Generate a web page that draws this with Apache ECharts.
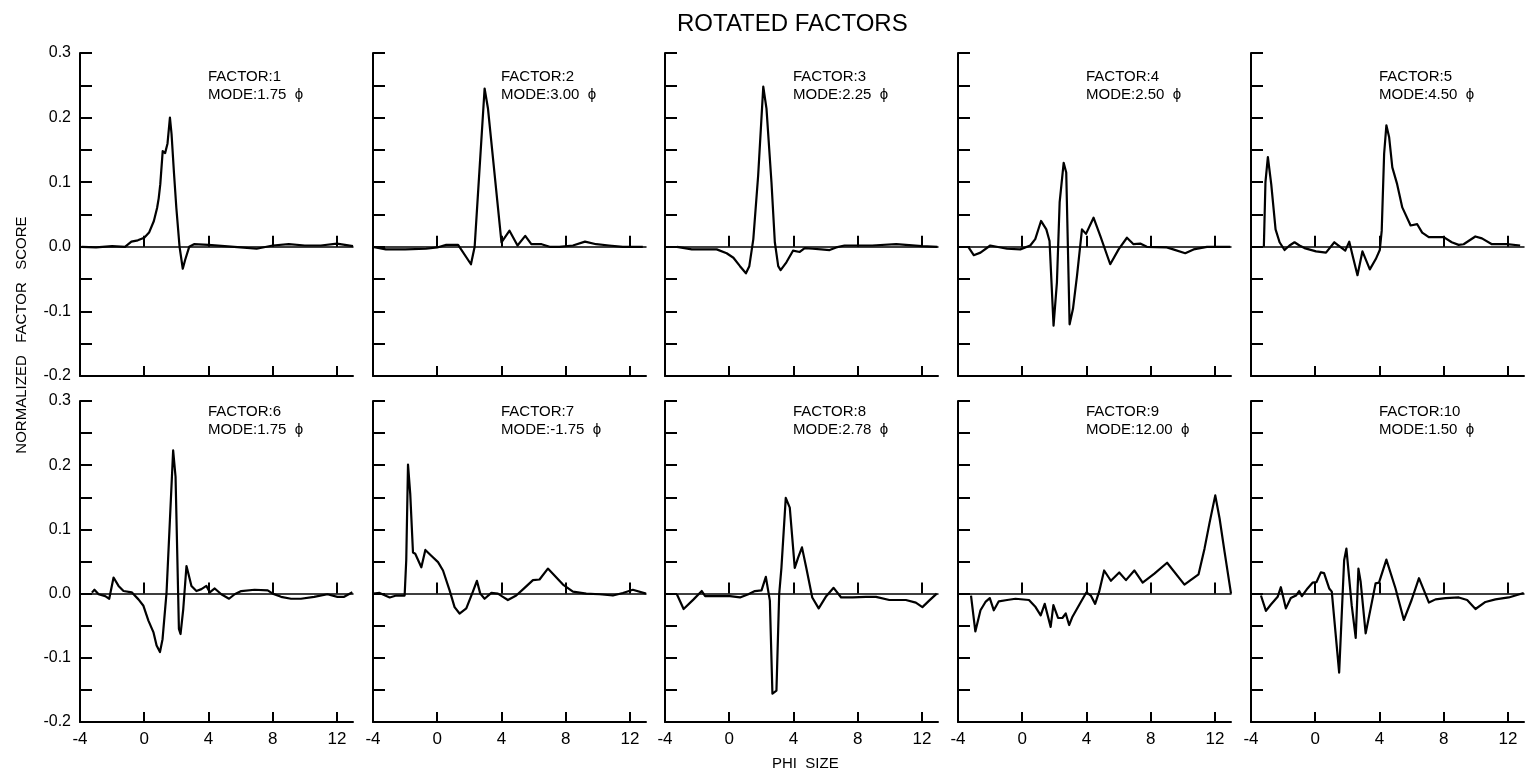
<!DOCTYPE html>
<html>
<head>
<meta charset="utf-8">
<script src="https://cdn.jsdelivr.net/npm/echarts@6/dist/echarts.min.js"></script>
<style>
html,body{margin:0;padding:0;background:#fff;}
#chart{width:1525px;height:773px;}
</style>
</head>
<body>
<div id="chart"></div>
<script>
// ---- data: [phi size, normalized factor score] ----
const factor1 = [[-3.9,0],[-3,-0.001],[-2,0.001],[-1.2,0],[-0.8,0.008],[-0.4,0.01],[0,0.014],[0.3,0.022],[0.6,0.04],[0.8,0.06],[0.9,0.075],[1.0,0.097],[1.15,0.148],[1.3,0.145],[1.45,0.16],[1.6,0.2],[1.7,0.175],[1.85,0.115],[2.0,0.06],[2.2,0.0],[2.4,-0.034],[2.55,-0.02],[2.8,0.0],[3.1,0.004],[4,0.003],[5,0.001],[6,-0.001],[7,-0.003],[8,0.002],[9,0.004],[10,0.002],[11,0.002],[12,0.005],[13,0.001]];
const factor2 = [[-4,0],[-3.2,-0.004],[-2,-0.004],[-0.7,-0.003],[0,-0.001],[0.56,0.003],[1.3,0.003],[2.1,-0.027],[2.33,0],[2.95,0.245],[3.16,0.214],[4.0,0.007],[4.5,0.025],[5.0,0.002],[5.48,0.017],[5.86,0.004],[6.5,0.004],[7.0,0],[7.6,0],[8.45,0.002],[9.2,0.008],[9.9,0.004],[10.7,0.002],[11.56,0],[12.8,0]];
const factor3 = [[-3.25,0],[-2.33,-0.004],[-0.78,-0.004],[-0.16,-0.01],[0.26,-0.017],[0.67,-0.03],[1.04,-0.041],[1.25,-0.03],[1.5,0.012],[1.8,0.11],[2.12,0.248],[2.32,0.214],[2.63,0.1],[2.84,0.007],[3.05,-0.03],[3.2,-0.036],[3.56,-0.024],[3.97,-0.006],[4.39,-0.008],[4.7,-0.002],[5.2,-0.003],[5.73,-0.004],[6.25,-0.005],[6.66,-0.001],[7.18,0.002],[8.9,0.002],[10.4,0.004],[12.0,0.001],[12.96,0]];
const factor4 = [[-3.34,-0.001],[-3.02,-0.013],[-2.6,-0.009],[-1.99,0.002],[-0.95,-0.003],[-0.12,-0.004],[0.5,0.002],[0.81,0.012],[1.17,0.04],[1.5,0.027],[1.7,0.009],[1.95,-0.122],[2.16,-0.055],[2.33,0.069],[2.58,0.13],[2.74,0.115],[2.95,-0.12],[3.16,-0.096],[3.41,-0.045],[3.72,0.027],[3.97,0.02],[4.44,0.045],[4.86,0.017],[5.48,-0.027],[6.0,-0.004],[6.52,0.014],[6.93,0.004],[7.35,0.005],[7.76,0],[9.0,-0.001],[9.4,-0.004],[10.15,-0.01],[10.67,-0.004],[11.5,0],[12.95,0]];
const factor5 = [[-3.2,0],[-3.1,0.1],[-2.95,0.139],[-2.74,0.097],[-2.47,0.027],[-2.22,0.007],[-1.91,-0.005],[-1.6,0.002],[-1.29,0.007],[-0.98,0.002],[-0.67,-0.002],[0.05,-0.007],[0.67,-0.009],[1.19,0.007],[1.6,-0.001],[1.87,-0.006],[2.12,0.008],[2.36,-0.017],[2.63,-0.044],[2.94,-0.007],[3.4,-0.035],[3.77,-0.019],[4.02,-0.005],[4.14,0.025],[4.29,0.144],[4.43,0.188],[4.6,0.17],[4.8,0.123],[5.1,0.097],[5.42,0.061],[5.94,0.033],[6.35,0.035],[6.66,0.022],[7.07,0.015],[8.0,0.015],[8.5,0.007],[8.93,0.003],[9.24,0.004],[9.97,0.016],[10.38,0.013],[11.0,0.004],[11.93,0.004],[12.76,0.002]];
const factor6 = [[-3.26,0.0015],[-3.1,0.006],[-2.84,-0.001],[-2.43,-0.004],[-2.18,-0.008],[-1.91,0.025],[-1.6,0.012],[-1.29,0.004],[-0.78,0.002],[-0.36,-0.009],[-0.05,-0.019],[0.26,-0.042],[0.57,-0.06],[0.77,-0.081],[0.98,-0.091],[1.14,-0.071],[1.39,0.002],[1.6,0.115],[1.8,0.223],[1.95,0.182],[2.16,-0.055],[2.26,-0.063],[2.43,-0.024],[2.63,0.043],[2.74,0.032],[2.94,0.012],[3.25,0.004],[3.56,0.007],[3.87,0.012],[4.08,0.002],[4.39,0.008],[4.8,-0.001],[5.28,-0.008],[5.63,-0.001],[6.04,0.004],[6.87,0.006],[7.69,0.005],[8.0,0],[8.52,-0.005],[9.14,-0.008],[9.76,-0.008],[10.58,-0.005],[11.41,-0.001],[12.03,-0.005],[12.45,-0.005],[12.96,0.002]];
const factor7 = [[-4,0],[-3.59,0.001],[-2.96,-0.006],[-2.55,-0.003],[-2.03,-0.003],[-1.93,0.052],[-1.82,0.201],[-1.68,0.155],[-1.51,0.064],[-1.37,0.062],[-0.99,0.041],[-0.74,0.068],[-0.37,0.059],[0.05,0.049],[0.36,0.036],[0.77,0.005],[1.08,-0.021],[1.39,-0.031],[1.81,-0.023],[2.22,0.003],[2.47,0.02],[2.68,0],[2.95,-0.008],[3.37,0.001],[3.78,0],[4.09,-0.005],[4.4,-0.01],[4.92,-0.003],[5.44,0.009],[5.96,0.021],[6.37,0.022],[6.89,0.039],[7.2,0.031],[7.83,0.014],[8.45,0.003],[9.28,0],[10.1,-0.001],[10.94,-0.003],[11.56,0.001],[12.18,0.006],[13.0,0]];
const factor8 = [[-3.26,-0.001],[-2.84,-0.024],[-2.22,-0.009],[-1.71,0.004],[-1.5,-0.004],[-0.57,-0.004],[0.05,-0.004],[0.67,-0.006],[1.19,-0.001],[1.6,0.004],[2.01,0.005],[2.28,0.026],[2.53,-0.011],[2.69,-0.156],[2.94,-0.151],[3.11,-0.001],[3.25,0.04],[3.52,0.149],[3.77,0.134],[4.08,0.04],[4.29,0.056],[4.53,0.072],[4.8,0.04],[5.17,-0.006],[5.57,-0.023],[6.04,-0.004],[6.5,0.009],[6.97,-0.006],[7.69,-0.006],[8.52,-0.005],[9.14,-0.005],[9.97,-0.01],[11.0,-0.01],[11.62,-0.014],[12.03,-0.021],[12.45,-0.011],[12.92,0]];
const factor9 = [[-3.19,-0.003],[-2.92,-0.059],[-2.6,-0.026],[-2.29,-0.013],[-2.02,-0.007],[-1.77,-0.026],[-1.46,-0.012],[-0.94,-0.01],[-0.42,-0.008],[0.42,-0.01],[0.83,-0.021],[1.15,-0.034],[1.4,-0.016],[1.77,-0.052],[1.94,-0.018],[2.23,-0.038],[2.5,-0.038],[2.71,-0.031],[2.92,-0.049],[3.13,-0.036],[3.65,-0.013],[4.0,0.002],[4.27,-0.003],[4.54,-0.016],[4.79,0.003],[5.1,0.036],[5.52,0.02],[6.04,0.033],[6.46,0.021],[6.98,0.036],[7.5,0.017],[8.23,0.031],[9.02,0.048],[10.1,0.014],[10.98,0.03],[11.35,0.07],[11.67,0.111],[12.02,0.153],[12.29,0.117],[12.6,0.065],[13.0,0]];
const factor10 = [[-3.38,-0.003],[-3.07,-0.027],[-2.76,-0.017],[-2.34,-0.005],[-2.14,0.01],[-1.83,-0.023],[-1.52,-0.007],[-1.2,-0.003],[-1.0,0.004],[-0.83,-0.004],[-0.48,0.008],[-0.17,0.017],[0.08,0.018],[0.35,0.033],[0.55,0.032],[0.87,0.008],[1.03,0.003],[1.49,-0.123],[1.8,0.052],[1.94,0.07],[2.27,-0.018],[2.52,-0.069],[2.69,0.039],[2.83,0.018],[3.14,-0.062],[3.45,-0.023],[3.76,0.016],[3.97,0.017],[4.43,0.053],[5.0,0.008],[5.52,-0.041],[6.0,-0.01],[6.46,0.024],[7.08,-0.014],[7.49,-0.009],[8.11,-0.007],[8.94,-0.006],[9.46,-0.01],[9.98,-0.024],[10.6,-0.013],[11.22,-0.009],[12.05,-0.006],[12.98,0.001]];

const factorNumbers = ['1','2','3','4','5','6','7','8','9','10'];
const modes = ['1.75','3.00','2.25','2.50','4.50','1.75','-1.75','2.78','12.00','1.50'];
const xTickLabels = [-4, 0, 4, 8, 12];
const xTicks = [0, 4, 8, 12];
const yTickLabels = [-0.2, -0.1, 0, 0.1, 0.2, 0.3];
const yTicks = [-0.15, -0.1, -0.05, 0, 0.05, 0.1, 0.15, 0.2, 0.25, 0.3];

const allFactors = [factor1,factor2,factor3,factor4,factor5,factor6,factor7,factor8,factor9,factor10];

// ---- layout ----
const FONT = '"Liberation Sans", "DejaVu Sans", sans-serif';
const INK = '#000';
const colLeft = [80, 373, 665, 958, 1251];
const colWidth = 273;
const rowTop = [53, 401];
const rowHeight = [323, 321];
const textTop = [63, 398];

const grids = [], xAxes = [], yAxes = [], series = [], titles = [];

titles.push({
  text: 'ROTATED FACTORS', left: 672, top: 7,
  textStyle: {fontFamily: FONT, fontSize: 24, fontWeight: 'normal', color: INK}
});
titles.push({
  text: 'PHI  SIZE', left: 767, top: 751,
  textStyle: {fontFamily: FONT, fontSize: 15, fontWeight: 'normal', color: INK}
});

allFactors.forEach((data, i) => {
  const r = Math.floor(i / 5), c = i % 5;
  grids.push({left: colLeft[c], top: rowTop[r], width: colWidth, height: rowHeight[r], containLabel: false});
  // frame bottom axis
  xAxes.push({
    type: 'value', gridIndex: i, min: -4, max: 13, interval: 4, position: 'bottom',
    axisLine: {onZero: false, lineStyle: {color: INK, width: 2}},
    axisTick: {inside: true, length: 10, customValues: xTicks, lineStyle: {color: INK, width: 2}},
    axisLabel: {show: r === 1, customValues: xTickLabels, margin: 9,
      fontFamily: FONT, fontSize: 17, color: INK, formatter: v => String(v)},
    splitLine: {show: false}
  });
  // zero line with upward ticks
  xAxes.push({
    type: 'value', gridIndex: i, min: -4, max: 13, interval: 4, position: 'top',
    axisLine: {onZero: true, lineStyle: {color: INK, width: 1.5}},
    axisTick: {inside: false, length: 11, customValues: xTicks, lineStyle: {color: INK, width: 2}},
    axisLabel: {show: false},
    splitLine: {show: false}
  });
  yAxes.push({
    type: 'value', gridIndex: i, min: -0.2, max: 0.3, interval: 0.05, position: 'left',
    axisLine: {onZero: false, lineStyle: {color: INK, width: 2}},
    axisTick: {inside: true, length: 12, customValues: yTicks, lineStyle: {color: INK, width: 2}},
    axisLabel: {show: c === 0, customValues: yTickLabels, margin: 9,
      fontFamily: FONT, fontSize: 16, color: INK, formatter: v => v.toFixed(1)},
    splitLine: {show: false}
  });
  series.push({
    type: 'line', xAxisIndex: 2 * i, yAxisIndex: i, data: data,
    showSymbol: false, symbol: 'none', silent: true, animation: false,
    lineStyle: {color: INK, width: 2.2, join: 'round'}
  });
  titles.push({
    text: 'FACTOR:' + factorNumbers[i] + '\nMODE:' + modes[i] + '  \u03D5',
    left: colLeft[c] + 123, top: textTop[r],
    textStyle: {fontFamily: FONT, fontSize: 15, fontWeight: 'normal', color: INK, lineHeight: 18}
  });
});

const chart = echarts.init(document.getElementById('chart'), null, {renderer: 'canvas'});
chart.setOption({
  backgroundColor: '#fff',
  animation: false,
  title: titles,
  grid: grids,
  xAxis: xAxes,
  yAxis: yAxes,
  series: series,
  graphic: [{
    type: 'text', x: 22, y: 335, rotation: Math.PI / 2,
    style: {text: 'NORMALIZED   FACTOR   SCORE', font: '15px ' + FONT, fill: INK,
      textAlign: 'center', textVerticalAlign: 'middle'}
  }]
});
</script>
</body>
</html>
